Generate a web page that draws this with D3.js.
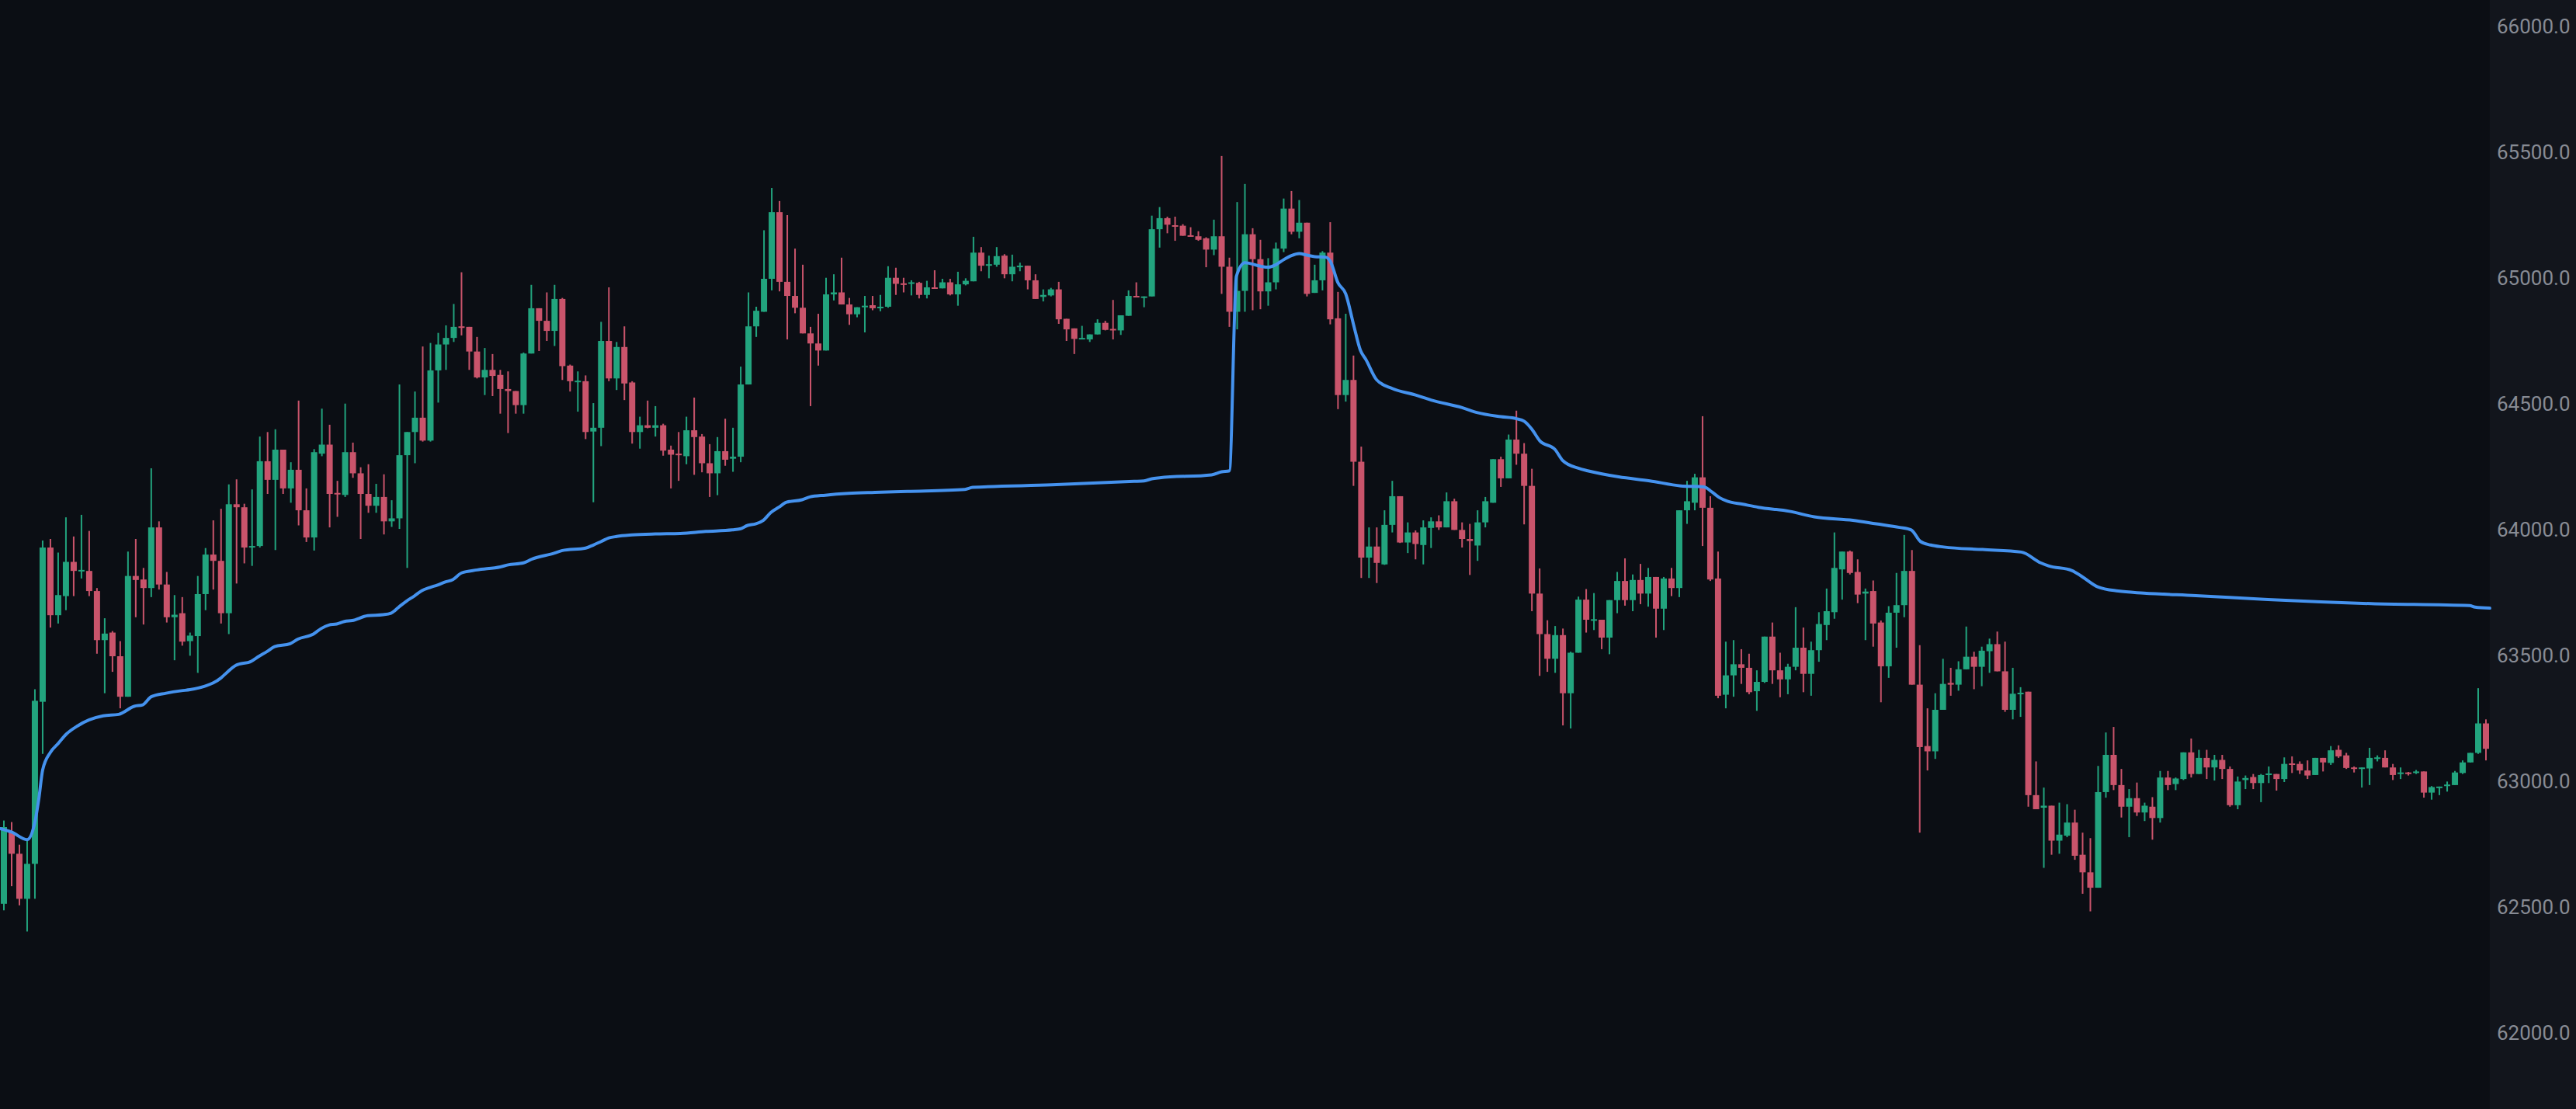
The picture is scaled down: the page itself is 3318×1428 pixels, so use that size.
<!DOCTYPE html>
<html><head><meta charset="utf-8">
<script src="https://cdn.jsdelivr.net/npm/d3@7"></script>
<style>html,body{margin:0;padding:0;background:#0b0e14;overflow:hidden}</style>
</head><body>
<svg id="c" width="3318" height="1428"></svg>
<script>
const openP=[62512,62797,62711,62532,62671,63315,63928,63659,63735,63871,
63835,63835,63755,63560,63590,63496,63335,63815,63801,63767,
64008,63781,63651,63667,63556,63576,63743,63900,63875,63667,
64100,64088,63928,63934,64271,64197,64317,64163,64237,64076,
63968,64301,64337,64145,64137,64307,64223,64141,64094,64129,
64032,64044,64295,64387,64444,64353,64632,64735,64761,64807,
64805,64707,64604,64634,64614,64558,64550,64494,64699,64879,
64829,64789,64916,64651,64587,64589,64389,64404,64749,64600,
64725,64584,64387,64414,64404,64414,64317,64301,64291,64394,
64369,64263,64223,64311,64281,64289,64576,64807,64865,64996,
65261,64984,64928,64881,64779,64739,64711,64934,64942,64894,
64855,64883,64891,64881,64885,65000,64978,64976,64980,64932,
64962,64958,64982,64934,64974,64986,65100,65048,65052,65088,
65014,65044,65048,64990,64924,64930,64954,64837,64799,64757,
64755,64775,64821,64797,64791,64849,64928,64922,64926,65193,
65237,65209,65207,65169,65165,65157,65112,65165,65044,64865,
64948,65173,65074,64946,64982,65116,65275,65183,65219,64940,
64990,65100,64839,64534,64594,64269,63888,63932,63861,64018,
64132,63948,63988,63938,64006,64032,64008,64112,63998,63962,
63936,64028,64106,64279,64203,64357,64301,64173,63745,63584,
63486,63580,63349,63510,63721,63639,63641,63570,63719,63795,
63719,63799,63745,63811,63685,63805,63767,64076,64106,64207,
64086,63805,63343,63420,63464,63450,63357,63394,63574,63440,
63404,63454,63530,63426,63520,63620,63671,63841,63912,63831,
63745,63755,63630,63456,63669,63699,63835,63383,63139,63118,
63283,63390,63383,63444,63494,63454,63516,63544,63436,63283,
63347,63355,62944,62894,62902,62763,62783,62835,62707,62637,
62576,62956,63104,62984,62898,62932,62875,62898,62853,63014,
62988,63008,63114,63028,63092,63054,63084,63048,62904,63004,
63016,62992,63024,63028,63008,63070,63068,63042,63024,63092,
63072,63124,63102,63054,63050,63050,63088,63092,63054,63028,
63034,63034,63038,62954,62974,62980,62984,63032,63074,63112,
63229];
const highP=[62843,62837,62747,62767,63365,63956,63962,63908,64048,63972,
64058,63994,63767,63647,63596,63556,63912,63962,63847,64243,
64032,63831,63739,63731,63590,63815,63926,64036,64082,64179,
64199,64102,64159,64369,64387,64398,64317,64267,64512,64163,
64319,64480,64416,64193,64500,64345,64247,64259,64181,64219,
64116,64576,64387,64548,64727,64741,64781,64811,64896,65022,
64805,64765,64721,64697,64634,64628,64550,64703,64972,64879,
64942,64972,64920,64655,64628,64612,64502,64825,64962,64745,
64807,64589,64448,64512,64490,64420,64333,64387,64448,64524,
64379,64339,64367,64440,64404,64647,64942,64885,65189,65357,
65305,65249,65116,65052,64805,64857,65000,65014,65080,64920,
64883,64928,64928,64932,65046,65040,65000,64990,64984,64988,
65030,64996,64996,65024,64998,65163,65122,65088,65122,65094,
65092,65060,65048,65014,64954,64960,64984,64837,64799,64809,
64775,64835,64829,64912,64851,64950,64982,64926,65247,65281,
65243,65243,65213,65201,65185,65161,65231,65484,65080,65301,
65373,65197,65151,65078,65140,65315,65345,65309,65219,65052,
65106,65221,64944,64857,64691,64329,64008,64008,64076,64193,
64132,64028,63996,64036,64048,64056,64147,64122,64028,64022,
64076,64129,64279,64289,64377,64472,64343,64241,63845,63639,
63616,63606,63514,63733,63763,63747,63641,63719,63831,63885,
63821,63863,63847,63811,63811,63847,64076,64193,64221,64450,
64132,63912,63554,63560,63524,63506,63440,63574,63630,63510,
63466,63691,63610,63554,63671,63765,63988,63912,63916,63881,
63765,63797,63638,63695,63827,63978,63918,63540,63289,63349,
63486,63450,63476,63614,63514,63534,63566,63594,63554,63450,
63373,63355,63078,62974,62902,62914,62908,62886,62795,62773,
63060,63193,63215,63048,62968,62994,62914,62936,63040,63040,
63014,63114,63169,63124,63124,63104,63104,63058,63018,63022,
63028,63028,63058,63028,63094,63098,63078,63082,63092,63092,
63139,63142,63112,63058,63054,63132,63102,63122,63068,63054,
63036,63044,63038,62980,62978,62998,63040,63082,63112,63369,
63245];
const lowP=[62486,62582,62506,62402,62532,63108,63610,63626,63679,63735,
63805,63735,63506,63349,63434,63289,63335,63651,63622,63731,
63761,63630,63480,63538,63498,63430,63679,63761,63626,63584,
63785,63865,63855,63928,64141,63918,64141,64106,64016,63950,
63916,64291,64008,64050,64129,64205,63962,64066,64066,63980,
64010,64002,63847,64263,64349,64349,64504,64634,64745,64771,
64634,64600,64534,64530,64460,64383,64460,64460,64699,64709,
64749,64729,64594,64548,64468,64359,64108,64331,64589,64554,
64514,64341,64321,64402,64369,64293,64163,64193,64259,64217,
64227,64129,64136,64253,64229,64267,64576,64765,64865,64950,
64946,64755,64859,64779,64490,64651,64711,64910,64894,64813,
64843,64783,64871,64867,64881,64932,64942,64930,64918,64918,
64958,64958,64930,64889,64970,64986,65026,64998,65044,64998,
64986,65026,64954,64916,64906,64926,64817,64749,64697,64757,
64745,64775,64791,64755,64773,64849,64922,64883,64926,65120,
65177,65147,65167,65165,65147,65042,65090,64936,64805,64795,
64865,64871,64875,64889,64954,65102,65173,65157,64926,64940,
64950,64815,64478,64508,64173,63807,63807,63787,63859,63988,
63946,63906,63881,63861,63926,63998,64008,63998,63928,63819,
63875,64008,64106,64169,64203,64257,64020,63675,63418,63434,
63430,63221,63209,63510,63590,63600,63524,63504,63667,63697,
63675,63703,63693,63570,63600,63735,63731,64022,64076,63934,
63795,63329,63289,63335,63386,63345,63279,63390,63386,63333,
63345,63440,63353,63339,63474,63560,63645,63721,63821,63707,
63560,63534,63313,63410,63530,63651,63383,62795,63042,63088,
63283,63339,63359,63444,63365,63377,63430,63436,63275,63245,
63255,62898,62888,62655,62707,62711,62777,62687,62552,62482,
62576,62934,62964,62855,62777,62861,62841,62767,62835,62964,
62964,63004,63014,63028,63008,63002,63008,62898,62888,62968,
62968,62916,62992,62962,62996,63032,63028,63008,63024,63038,
63064,63092,63048,63034,62974,62984,63078,63054,63004,63008,
63022,63028,62934,62926,62944,62958,62984,63028,63074,63108,
63082];
const closeP=[62817,62711,62532,62671,63319,63928,63659,63739,63871,63835,
63839,63755,63560,63586,63496,63335,63815,63799,63767,64008,
63781,63651,63661,63554,63578,63743,63900,63875,63667,64100,
64088,63928,63934,64271,64197,64317,64163,64237,64076,63968,
64307,64337,64141,64139,64307,64223,64141,64094,64129,64032,
64044,64295,64387,64444,64353,64632,64735,64761,64805,64801,
64707,64604,64634,64610,64558,64550,64494,64699,64879,64829,
64789,64916,64649,64589,64591,64387,64404,64749,64600,64725,
64580,64387,64414,64404,64414,64313,64297,64295,64394,64367,
64263,64223,64311,64277,64289,64576,64807,64869,64996,65261,
64984,64928,64881,64779,64739,64711,64934,64942,64894,64855,
64883,64889,64879,64885,65000,64976,64972,64982,64932,64962,
64958,64982,64934,64974,64988,65100,65048,65054,65086,65014,
65044,65048,64990,64916,64932,64954,64835,64795,64757,64761,
64775,64821,64793,64791,64851,64928,64922,64926,65193,65237,
65211,65205,65167,65165,65151,65112,65165,65044,64865,64948,
65173,65074,64946,64982,65116,65275,65183,65219,64936,64990,
65100,64835,64534,64594,64269,63888,63932,63867,64018,64132,
63948,63988,63942,64008,64032,64008,64112,63998,63962,63954,
64028,64112,64279,64203,64357,64301,64173,63745,63584,63486,
63580,63349,63510,63721,63641,63643,63570,63719,63795,63719,
63799,63745,63811,63685,63805,63767,64076,64112,64207,64086,
63801,63339,63420,63464,63450,63353,63394,63574,63440,63404,
63454,63530,63426,63520,63624,63675,63847,63912,63827,63741,
63753,63626,63456,63669,63699,63835,63383,63135,63118,63283,
63386,63383,63444,63494,63454,63518,63544,63436,63283,63347,
63351,62944,62888,62902,62763,62787,62835,62703,62637,62576,
62956,63104,62984,62898,62932,62875,62902,62853,63014,62984,
63010,63114,63028,63092,63054,63084,63048,62904,62998,63012,
62992,63024,63030,63008,63068,63064,63042,63022,63092,63074,
63122,63098,63052,63050,63054,63092,63094,63054,63024,63034,
63030,63038,62954,62976,62978,62986,63034,63074,63112,63229,
63128];
// VWAP-style line: read at candle positions (fractional index) and price
const vwapIdx=[-0.5,1,3,4,4.5,5,6,7,8,9.5,11,12.8,14.8,16.8,17.9,19,20.9,22.9,24,25.9,27,28,28.7,29.9,31.9,32.9,33.9,34.9,36.9,37.9,39.9,40.9,41.9,42.9,43.9,44.9,46.9,48.9,49.9,50.9,51.9,52.9,53.9,54.9,55.9,56.9,57.9,59,61,64,65,67,68,71,72,75,76,77,78,79,81,84,87.2,90.5,93.9,94.9,95.9,96.9,97.9,98.9,99.9,100.9,102.9,103.9,105.9,108.9,112.3,116.5,123.9,124.9,135.1,145.7,147,148,149,155.7,157,158,158.9,160,162,163,164,165,166,167,168,169,170.4,171,172,173,174,174.9,175.6,177,179,182,184,188,190,193,195,196,197,198,200,201,203,204.2,208.2,212.2,216.2,219.2,220.2,221.2,222.2,224.2,226.2,230.2,233.4,238.4,241.4,244.4,245.9,247.1,248.4,250.1,255.1,260.1,262.6,263.6,266.6,268,270,272.6,275.9,282.6,291.9,305.2,317.9,318.6,320.5];
const vwapVal=[62811,62797,62767,62837,62928,63044,63114,63149,63185,63219,63243,63259,63265,63297,63303,63335,63349,63359,63363,63377,63390,63410,63430,63460,63476,63496,63514,63534,63546,63564,63584,63606,63620,63624,63634,63638,63657,63661,63667,63691,63715,63735,63757,63769,63779,63791,63801,63827,63839,63851,63859,63867,63881,63906,63916,63926,63938,63952,63966,63972,63978,63982,63984,63992,63998,64002,64016,64022,64036,64068,64088,64108,64118,64129,64136,64143,64147,64151,64159,64167,64177,64191,64193,64201,64205,64217,64229,64233,65006,65060,65046,65042,65052,65072,65088,65096,65090,65084,65082,65066,64980,64936,64815,64711,64675,64594,64560,64534,64514,64484,64464,64448,64440,64430,64398,64353,64317,64273,64243,64233,64209,64193,64173,64169,64149,64126,64112,64100,64088,64072,64050,64036,64022,64008,63998,63952,63938,63930,63920,63910,63867,63855,63837,63811,63771,63755,63747,63737,63721,63705,63697,63691,63687];
const priceTicks=[62000,62500,63000,63500,64000,64500,65000,65500,66000];

const W=3318,H=1428,plotRight=3207;
const upCol='#22a47e',downCol='#c9546b',lineCol='#4592ee';
const svg=d3.select('#c');
svg.append('rect').attr('width',W).attr('height',H).attr('fill','#0b0e14');
svg.append('rect').attr('x',plotRight).attr('width',W-plotRight).attr('height',H).attr('fill','#12151c');

const n=openP.length;
const x=d3.scaleLinear().domain([-0.5,n-0.5]).range([0,plotRight]);
const y=d3.scaleLinear().domain([62000,66000]).range([1329.7,33.7]);
const step=x(1)-x(0), bw=step*0.8;
const data=d3.range(n).map(i=>({i,o:openP[i],h:highP[i],l:lowP[i],c:closeP[i]}));
const col=d=>d.c>=d.o?upCol:downCol;

const plot=svg.append('g');
plot.selectAll('line.wick').data(data).join('line').attr('class','wick')
  .attr('x1',d=>x(d.i)).attr('x2',d=>x(d.i))
  .attr('y1',d=>y(d.h)).attr('y2',d=>y(d.l))
  .attr('stroke',col).attr('stroke-width',2);
plot.selectAll('rect.body').data(data).join('rect').attr('class','body')
  .attr('x',d=>x(d.i)-bw/2).attr('width',bw)
  .attr('y',d=>y(Math.max(d.o,d.c)))
  .attr('height',d=>Math.max(2,Math.abs(y(d.o)-y(d.c))))
  .attr('fill',col);

const lineData=vwapIdx.map((v,k)=>[v,vwapVal[k]]);
plot.append('path').datum(lineData)
  .attr('fill','none').attr('stroke',lineCol).attr('stroke-width',4)
  .attr('stroke-linejoin','round').attr('stroke-linecap','round')
  .attr('d',d3.line().x(d=>x(d[0])).y(d=>y(d[1])).curve(d3.curveMonotoneX));

const axis=d3.axisRight(y).tickValues(priceTicks).tickSize(0).tickPadding(0).tickFormat(d3.format('.1f'));
const ag=svg.append('g').attr('transform','translate(3216,0)').call(axis);
ag.select('.domain').remove();
ag.selectAll('text').attr('fill','#878b94').attr('font-family','Roboto, sans-serif').attr('font-size',26).attr('dy','0.35em');
</script>
</body></html>
